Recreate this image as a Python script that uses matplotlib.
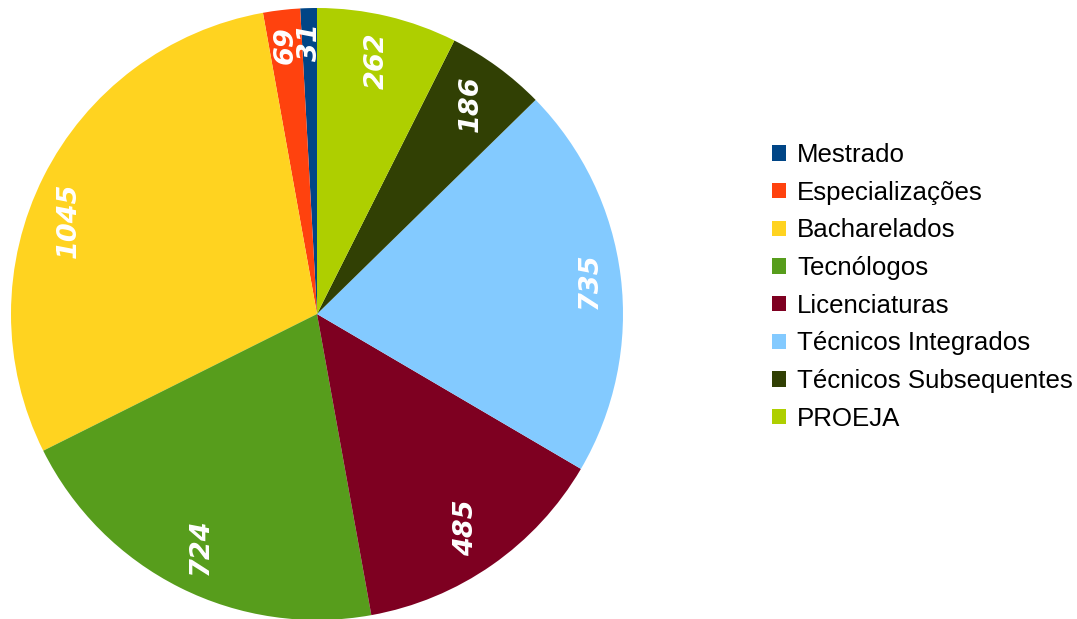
import matplotlib
matplotlib.use('Agg')
import matplotlib.pyplot as plt
import numpy as np

# data
categories = ['Mestrado', 'Especializações', 'Bacharelados', 'Tecnólogos',
              'Licenciaturas', 'Técnicos Integrados', 'Técnicos Subsequentes', 'PROEJA']
values = [31, 69, 1045, 724, 485, 735, 186, 262]
colors = ['#004586', '#ff420e', '#ffd320', '#579d1c',
          '#7e0021', '#83caff', '#314004', '#aecf00']

plt.rcParams['font.family'] = ['Liberation Sans', 'DejaVu Sans']

fig = plt.figure(figsize=(10.77, 6.19), dpi=100)
ax = fig.add_axes([11/1077, -1/619, 612/1077, 612/619])
wedges, _ = ax.pie(values, colors=colors, startangle=90, counterclock=True,
                   radius=1, wedgeprops=dict(linewidth=0))
ax.set_xlim(-1, 1)
ax.set_ylim(-1, 1)
ax.set_aspect('equal')
ax.axis('off')

# labels: rotated, outer edge of the text box kept a fixed gap inside the rim
nudge = {'Bacharelados': 6}
texts = []
for w, v, c in zip(wedges, values, categories):
    ang = (w.theta1 + w.theta2) / 2 + nudge.get(c, 0)
    t = ax.text(0, 0, str(v), rotation=90, ha='center', va='center',
                color='white', fontsize=19.5, fontweight='bold', fontstyle='oblique',
                family='DejaVu Sans')
    texts.append((t, np.deg2rad(ang)))

fig.canvas.draw()
px_per_unit = 306
for t, a in texts:
    bb = t.get_window_extent()
    half = (bb.width * abs(np.cos(a)) + bb.height * abs(np.sin(a))) / 2
    r = (291 - half) / px_per_unit
    t.set_position((r * np.cos(a), r * np.sin(a)))

fig.legend(wedges, categories, loc='center left', bbox_to_anchor=(0.717, 0.5365),
           frameon=False, fontsize=18.6, borderpad=0, handlelength=0.54,
           handleheight=0.54, handletextpad=0.42, labelspacing=0.53,
           borderaxespad=0)

fig.savefig('out.png', dpi=100)
